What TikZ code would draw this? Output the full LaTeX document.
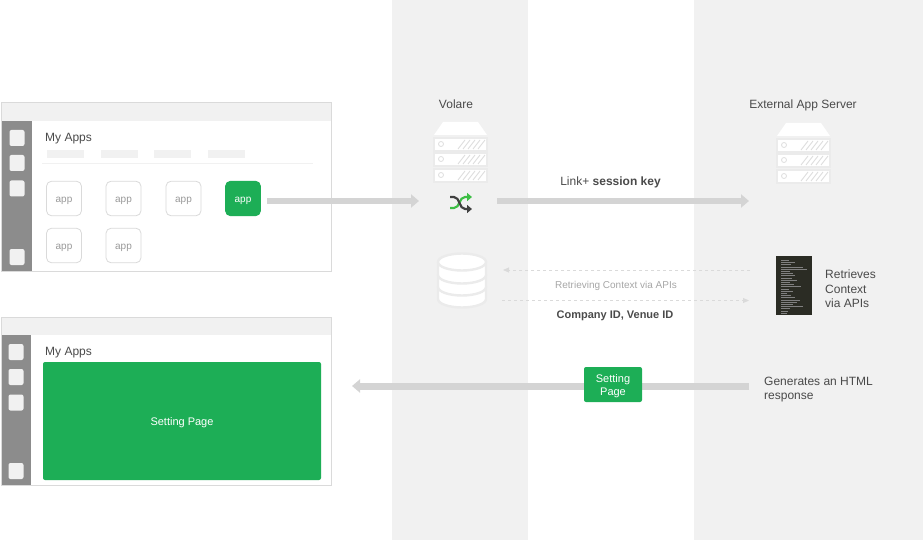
\documentclass[tikz,border=0pt]{standalone}
\usepackage{fontspec}
\setmainfont{Liberation Sans}
\usetikzlibrary{arrows.meta}
\definecolor{bandgray}{HTML}{F1F1F1}
\definecolor{framegray}{HTML}{DADADA}
\definecolor{sidegray}{HTML}{8C8C8C}
\definecolor{arrowgray}{HTML}{D4D4D4}
\definecolor{icongray}{HTML}{EBEBEB}
\definecolor{hatchgray}{HTML}{DEDEDE}
\definecolor{appgreen}{HTML}{1DAE56}
\definecolor{textgray}{HTML}{4A4A4A}
\definecolor{codedark}{HTML}{2B2C24}
\begin{document}
\begin{tikzpicture}[
		x=1pt, y=-1pt,
		every node/.style={inner sep=0pt, font=\fontsize{12}{14.5}\selectfont, text=textgray, align=left},
		sidebutton/.style={fill=bandgray, rounded corners=2pt, minimum width=15pt, minimum height=16pt},
		tabbar/.style={fill=bandgray, minimum width=37pt, minimum height=8pt},
		appbox/.style={draw=framegray, fill=white, line width=0.8pt, rounded corners=5pt, minimum width=35pt, minimum height=34.5pt,
				font=\fontsize{10}{11}\selectfont, text=black!40, text height=9pt, text depth=1pt},
		greenbox/.style={fill=appgreen, rounded corners=2pt},
		greentext/.style={text=white, align=center, font=\fontsize{11}{12.5}\selectfont},
		bigarrow/.style={draw=arrowgray, line width=6pt, -{Triangle[length=8pt,width=13pt]}},
		dasharrow/.style={draw=framegray, line width=0.9pt, dashed, -{Triangle[length=6pt,width=5pt]}},
		rack/.style={draw=icongray, fill=white, line width=1.8pt},
		servericon/.pic={
				\fill[white] (-18,-30) -- (17,-30) -- (26,-17) -- (-27,-17) -- cycle;
				\foreach \rowy in {-14,1,17} {
						\draw[rack] (-27,\rowy) rectangle (26,\rowy+13);
						\draw[hatchgray, line width=0.8pt] (-20,\rowy+6) circle (2.5);
						\foreach \slash in {0,5,...,20} {
								\draw[hatchgray, line width=0.9pt] (-3+\slash,\rowy+11) -- (4+\slash,\rowy+2);
							}
					}
			}
	]
	% bands
	\fill[bandgray] (392,0) rectangle (528,540);
	\fill[bandgray] (694,0) rectangle (923,540);
	\useasboundingbox (0,0) rectangle (923,540);

	% top window
	\draw[framegray, fill=white, line width=1pt] (1.5,102.5) rectangle (331.5,271);
	\fill[bandgray] (2,103) rectangle (331,121);
	\fill[sidegray] (2,121) rectangle (32,270.5);
	\foreach \name/\posy in {a/138,b/163,c/188.5,d/257} {
			\node[sidebutton] (topbtn\name) at (17,\posy) {};
		}
	\node[anchor=west] (topapps) at (45,138.5) {My Apps};
	\foreach \name/\posx in {a/65.5,b/119.5,c/172.5,d/226.5} {
			\node[tabbar] (toptab\name) at (\posx,154) {};
		}
	\draw[bandgray, line width=0.8pt] (42,163.5) -- (313,163.5);
	\node[appbox] (appa) at (64,198.5) {app};
	\node[appbox] (appb) at (123.5,198.5) {app};
	\node[appbox] (appc) at (183.5,198.5) {app};
	\node[appbox, fill=appgreen, draw=appgreen, text=white] (appd) at (243,198.5) {app};
	\node[appbox] (appe) at (64,245.5) {app};
	\node[appbox] (appf) at (123.5,245.5) {app};

	% bottom window
	\draw[framegray, fill=white, line width=1pt] (1,317) rectangle (331.5,485.5);
	\fill[bandgray] (1.5,317.5) rectangle (331,335);
	\fill[sidegray] (1.5,335) rectangle (31,485);
	\foreach \name/\posy in {a/352,b/377,c/402.5,d/471} {
			\node[sidebutton] (botbtn\name) at (16,\posy) {};
		}
	\node[anchor=west] (botapps) at (45,352.5) {My Apps};
	\node[greenbox, greentext, minimum width=278pt, minimum height=118pt, text height=9pt, text depth=1pt] (settingmain) at (182,421) {Setting Page};

	% servers
	\node (volare) at (456,104) {Volare};
	\node (external) at (803,105.5) {External App Server};
	\pic at (461,152) {servericon};
	\pic at (804,153) {servericon};

	% shuffle icon
	\draw[appgreen!80!lime, line width=2.2pt, -{Triangle[length=5pt,width=8pt]}] (450,208) -- (454,208) .. controls (460,208) and (459,197) .. (465,197) -- (472,197);
	\draw[black!75, line width=2.2pt, -{Triangle[length=5pt,width=8pt]}] (450,197) -- (454,197) .. controls (460,197) and (459,209) .. (465,209) -- (472,209);

	% database
	\foreach \layery in {291,279,267} {
			\draw[rack, line width=2.4pt] (438,\layery-5) -- (438,\layery+8) arc[start angle=180, end angle=360, x radius=24, y radius=-8.5] -- (486,\layery-5);
		}
	\draw[rack, line width=2.4pt] (462,262) ellipse (24 and 8.5);

	% code thumbnail
	\node[fill=codedark, minimum width=36pt, minimum height=59pt] (codethumb) at (794,285.5) {};
	\foreach \linew [count=\linei] in {8,14,10,22,26,9,12,14,11,16,9,13,20,8,12,6,10,14,19,16,12,22,9,7,6} {
			\draw[white!50!black, line width=0.4pt] (781,258+\linei*2.2) -- ++(\linew,0);
		}

	% texts on the right
	\node[anchor=west] (retrieves) at (825,289) {Retrieves\\Context\\via APIs};
	\node[anchor=west] (generates) at (764,389.5) {Generates an HTML\\response};

	% connectors
	\coordinate (appout) at (267,201);
	\coordinate (volarein) at (419,201);
	\coordinate (volareout) at (497,201);
	\coordinate (externalin) at (749,201);
	\coordinate (responsestart) at (749,386);
	\coordinate (responseend) at (352,386);
	\coordinate (contextfrom) at (750,270);
	\coordinate (contextto) at (503,270);
	\coordinate (idfrom) at (502,300.5);
	\coordinate (idto) at (749,300.5);
	\draw[bigarrow] (appout) -- (volarein);
	\draw[bigarrow] (volareout) -- (externalin);
	\draw[bigarrow, line width=7pt] (responsestart) -- (responseend);
	\draw[dasharrow] (contextfrom) -- (contextto);
	\draw[dasharrow] (idfrom) -- (idto);

	\node (linklabel) at (610.5,182.5) {Link+ \textbf{session key}};
	\node[text=black!35, font=\fontsize{10}{12}\selectfont] (contextlabel) at (616,285.5) {Retrieving Context via APIs};
	\node[font=\fontsize{11}{13}\selectfont\bfseries] (idlabel) at (615,316) {Company ID, Venue ID};
	\node[greenbox, minimum width=58pt, minimum height=35pt] (settingtag) at (613,384.5) {};
	\node[greentext] (settingtext) at (613,386) {Setting\\Page};
\end{tikzpicture}
\end{document}
